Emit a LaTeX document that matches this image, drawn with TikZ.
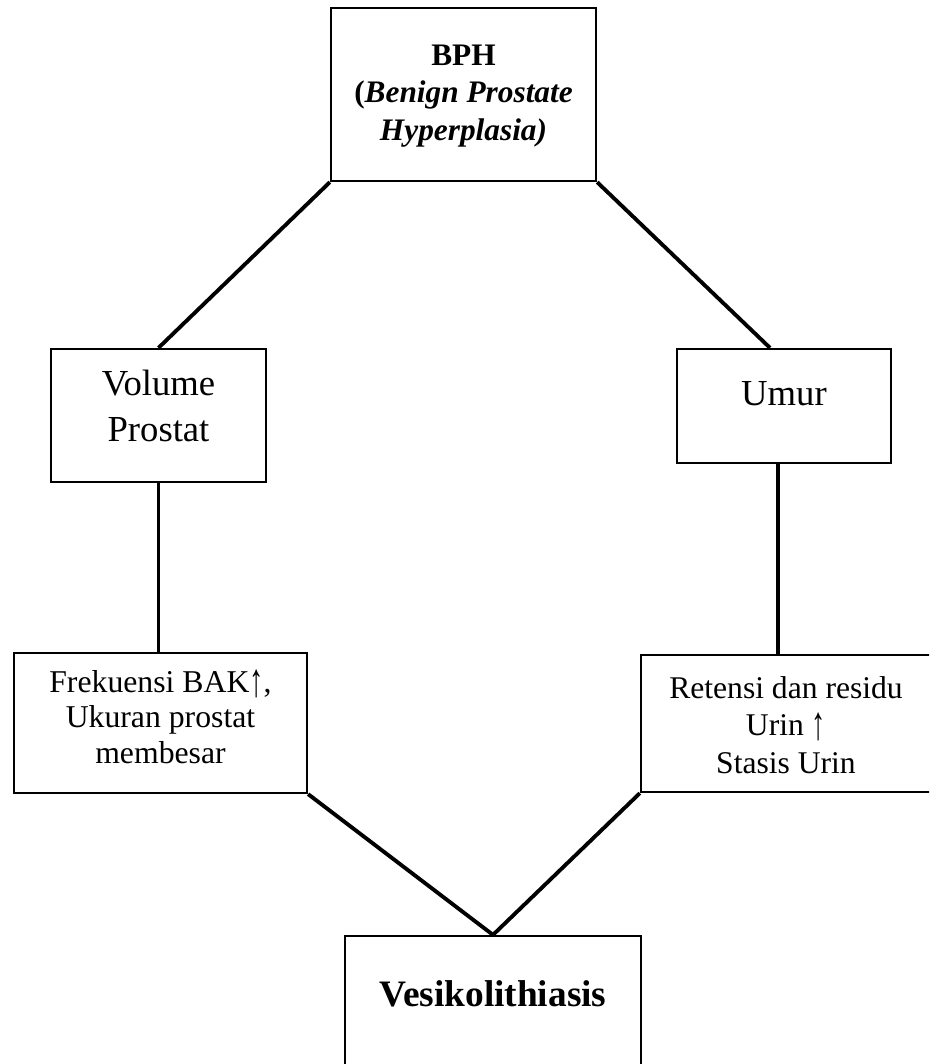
\documentclass[tikz,border=0pt]{standalone}
\usepackage{fontspec}
\setmainfont{Liberation Serif}
\usetikzlibrary{calc}

\newcommand\uparr{\raisebox{-0.12em}{\scalebox{0.9}[1.5]{↑}}}

\tikzset{
  box/.style={draw, line width=1.7pt, inner sep=0pt, align=center},
  link/.style={line width=2.9pt}
}

\begin{document}
\begin{tikzpicture}[x=0.75pt, y=-0.75pt]
		%%%%% START %%%%%
		\useasboundingbox (0, 0) rectangle (929, 1064);
		\clip (0, 0) rectangle (929, 1064);
		
		\node[box, minimum width=198.75pt, minimum height=129.75pt, text height=78.25pt, text depth=10pt,
		      font=\fontsize{23.5}{28}\selectfont\bfseries] (bph) at (463.5, 94.5)
		      {BPH\\(\textit{Benign Prostate}\\\textit{Hyperplasia)}};
		
		\node[box, minimum width=161.25pt, minimum height=99.75pt, text height=48.25pt, text depth=10pt,
		      font=\fontsize{27.5}{34.5}\selectfont] (volume) at (158.5, 415.5) {Volume\\Prostat};
		
		\node[box, minimum width=160.5pt, minimum height=85.5pt, text height=10pt, text depth=11.5pt,
		      font=\fontsize{27.5}{34}\selectfont] (umur) at (784, 406) {Umur};
		
		\node[box, minimum width=219.75pt, minimum height=105pt, text height=70pt, text depth=10pt,
		      font=\fontsize{23.8}{26.5}\selectfont] (frekuensi) at (160.5, 723)
		      {Frekuensi BAK\uparr,\\Ukuran prostat\\membesar};
		
		\node[box, minimum width=217.5pt, minimum height=102.75pt, text height=84.25pt, text depth=10pt,
		      font=\fontsize{23.7}{28}\selectfont] (retensi) at (786, 723.5)
		      {Retensi dan residu\\Urin \uparr\\Stasis Urin};
		
		\node[box, minimum width=222pt, minimum height=105pt, text height=10pt, text depth=10pt,
		      font=\fontsize{28}{34}\selectfont\bfseries] (vesiko) at (493, 1006) {Vesikolithiasis};
		
		\draw[link] (bph.south west) -- (volume.north);
		\draw[link] (bph.south east) -- ($(umur.north)+(-14, 0)$);
		\draw[link] (volume.south) -- (volume.south |- frekuensi.north);
		\draw[link] ($(umur.south)+(-6, 0)$) coordinate (umurfoot) -- (umurfoot |- retensi.north);
		\draw[link] (frekuensi.south east) -- (vesiko.north);
		\draw[link] (retensi.south west) -- (vesiko.north);
		%%%%% END %%%%%
\end{tikzpicture}
\end{document}
